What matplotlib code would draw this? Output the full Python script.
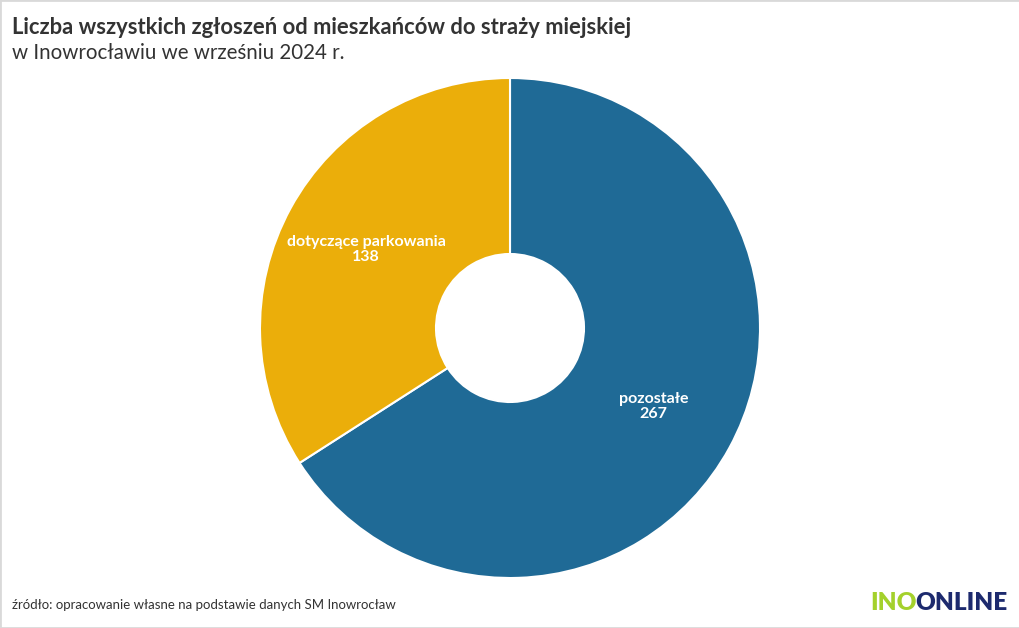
import numpy as np
import matplotlib.pyplot as plt
from matplotlib.patches import Rectangle

# data
categories = ['pozostałe', 'dotyczące parkowania']
values = [267, 138]
colors = ['#1f6a96', '#ebae0a']

plt.rcParams['font.family'] = ['Lato', 'DejaVu Sans']

fig = plt.figure(figsize=(10.2, 6.28), dpi=100)

# pie axes: centre ~ (510, 328) px, radius ~ 250 px
ax = fig.add_axes([260 / 1020, 50 / 628, 500 / 1020, 500 / 628])
wedges, _ = ax.pie(values, colors=colors, startangle=90, counterclock=False,
                   radius=1, wedgeprops=dict(width=1 - 74 / 250, edgecolor='white', linewidth=1.5))
ax.set_xlim(-1, 1)
ax.set_ylim(-1, 1)
ax.set_aspect('equal')
ax.axis('off')

# labels inside slices
for w, cat, val in zip(wedges, categories, values):
    ang = np.deg2rad((w.theta1 + w.theta2) / 2)
    ax.text(0.655 * np.cos(ang), 0.655 * np.sin(ang), f'{cat}\n{val}', ha='center', va='center',
            color='white', fontsize=11.5, fontweight='bold', linespacing=1.1)

# titles
fig.text(12 / 1020, 1 - 27 / 628, 'Liczba wszystkich zgłoszeń od mieszkańców do straży miejskiej',
         fontsize=15.8, fontweight='bold', color='#333333', va='center')
fig.text(12 / 1020, 1 - 53 / 628, 'w Inowrocławiu we wrześniu 2024 r.',
         fontsize=14.8, color='#333333', va='center')

# source
fig.text(12 / 1020, 1 - 605 / 628, 'źródło: opracowanie własne na podstawie danych SM Inowrocław',
         fontsize=9.5, color='#333333', va='center')

# logo
fig.text(1008 / 1020, 1 - 603 / 628, 'ONLINE', fontsize=17.5, fontweight='heavy',
         color='#1d2a6e', ha='right', va='center')
fig.text(917 / 1020, 1 - 603 / 628, 'INO', fontsize=17.5, fontweight='heavy',
         color='#a4d12c', ha='right', va='center')

# border
fig.patches.append(Rectangle((0, 0), 1, 1, transform=fig.transFigure, fill=False,
                             edgecolor='#d9d9d9', linewidth=2))

fig.savefig('out.png', dpi=100)
